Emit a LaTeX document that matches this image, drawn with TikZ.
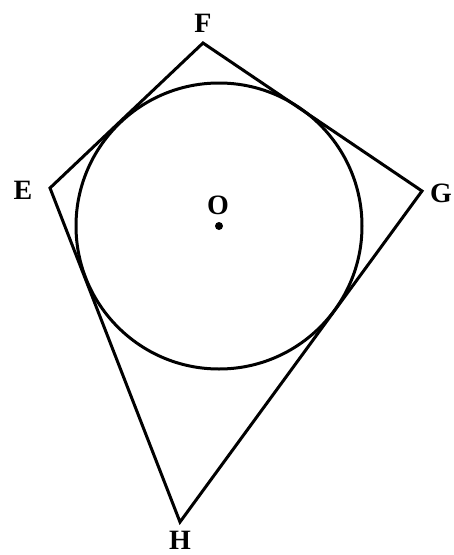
\documentclass[tikz,border=0pt]{standalone}
\usepackage{fontspec}
\setmainfont{Liberation Serif}
\begin{document}
\begin{tikzpicture}[x=1pt,y=-1pt,
  edge/.style={line width=3pt,line join=miter},
  lbl/.style={font=\fontsize{28}{30}\selectfont\bfseries,inner sep=0pt}]
\useasboundingbox (0,0) rectangle (454,555);
\coordinate (F) at (203,43);
\coordinate (E) at (50,188);
\coordinate (G) at (422,191);
\coordinate (H) at (180,522);
\coordinate (O) at (219,226);
\draw[edge] (F) -- (G) -- (H) -- (E) -- cycle;
\draw[line width=3pt] (O) circle[radius=143];
\fill (O) circle[radius=4];
\node[lbl] (lF) at (203,23) {F};
\node[lbl] (lE) at (23,190) {E};
\node[lbl] (lG) at (441,193) {G};
\node[lbl] (lO) at (218,205) {O};
\node[lbl] (lH) at (180,540) {H};
\end{tikzpicture}
\end{document}
